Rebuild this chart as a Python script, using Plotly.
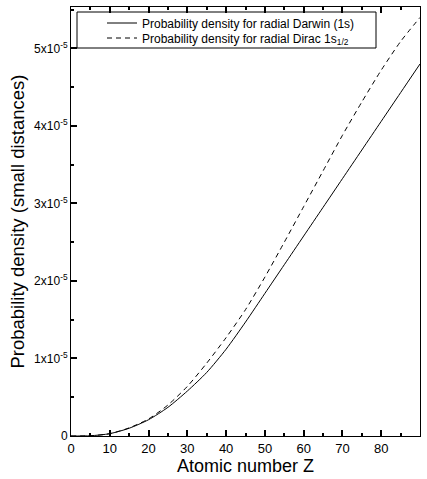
import plotly.graph_objects as go

# Data (probability density in units of 1e-5)
Z = [0, 5, 10, 15, 20, 25, 30, 35, 40, 45, 50, 55, 60, 65, 70, 75, 80, 85, 90]
darwin = [0, 0.003, 0.03, 0.10, 0.21, 0.37, 0.58, 0.82, 1.12, 1.47, 1.84, 2.21, 2.58, 2.95, 3.32, 3.69, 4.06, 4.43, 4.80]
dirac = [0, 0.003, 0.03, 0.105, 0.22, 0.40, 0.64, 0.94, 1.27, 1.63, 2.05, 2.50, 2.96, 3.42, 3.88, 4.31, 4.72, 5.09, 5.40]
SCALE = 1e-5
ytick_vals = [0, 1, 2, 3, 4, 5]
ytick_text = ["0", "1x10<sup>-5</sup>", "2x10<sup>-5</sup>", "3x10<sup>-5</sup>", "4x10<sup>-5</sup>", "5x10<sup>-5</sup>"]
xmajor_vals = list(range(0, 91, 10))
names = ["Probability density for radial Darwin (1s)", "Probability density for radial Dirac 1s<sub>1/2</sub>"]

XMAX = 90
YMAX = 5.535e-5
W, H = 427, 479
L, R, T, B = 71, 7, 7, 43
pw, ph = W - L - R, H - T - B

fig = go.Figure()
fig.add_trace(go.Scatter(x=Z, y=[v * SCALE for v in darwin], mode="lines", name=names[0],
                         legend="legend",
                         line=dict(color="black", width=1, shape="spline", smoothing=0.7)))
fig.add_trace(go.Scatter(x=Z, y=[v * SCALE for v in dirac], mode="lines", name=names[1],
                         legend="legend2",
                         line=dict(color="black", width=1, dash="5px,4px", shape="spline", smoothing=0.7)))

font = "Liberation Sans, Arial, Helvetica, sans-serif"

def px2x(p):
    return (p - L) / pw

def py2y(p):
    return (H - B - p) / ph

leg_common = dict(xanchor="left", yanchor="middle", bgcolor="rgba(0,0,0,0)", borderwidth=0,
                  font=dict(size=12, family=font, color="black"))

fig.update_layout(
    width=W, height=H,
    margin=dict(l=L, r=R, t=T, b=B),
    plot_bgcolor="white", paper_bgcolor="white",
    font=dict(family=font, color="black", size=13),
    showlegend=True,
    legend=dict(x=px2x(102), y=py2y(23), **leg_common),
    legend2=dict(x=px2x(102), y=py2y(38), **leg_common),
    shapes=[dict(type="rect", xref="paper", yref="paper",
                 x0=px2x(77), x1=px2x(376), y0=py2y(48), y1=py2y(12),
                 line=dict(color="black", width=1), fillcolor="rgba(0,0,0,0)")],
    xaxis=dict(range=[0, XMAX], tickvals=xmajor_vals,
               ticks="inside", ticklen=6, tickwidth=1.5, tickcolor="black",
               minor=dict(ticks="inside", dtick=5, ticklen=3, tickwidth=1.5, tickcolor="black"),
               showline=True, linecolor="black", linewidth=1, mirror="ticks",
               showgrid=False,
               tickfont=dict(size=13),
               title=dict(text="Atomic number Z", font=dict(size=18), standoff=4)),
    yaxis=dict(range=[0, YMAX],
               tickvals=[v * SCALE for v in ytick_vals], ticktext=ytick_text,
               ticks="inside", ticklen=6, tickwidth=1.5, tickcolor="black",
               minor=dict(ticks="inside", dtick=0.5 * SCALE, ticklen=3, tickwidth=1.5, tickcolor="black"),
               showline=True, linecolor="black", linewidth=1, mirror=True,
               showgrid=False,
               tickfont=dict(size=12),
               title=dict(text="Probability density (small distances)", font=dict(size=18.5), standoff=4)),
)

fig.write_html("out.html")
